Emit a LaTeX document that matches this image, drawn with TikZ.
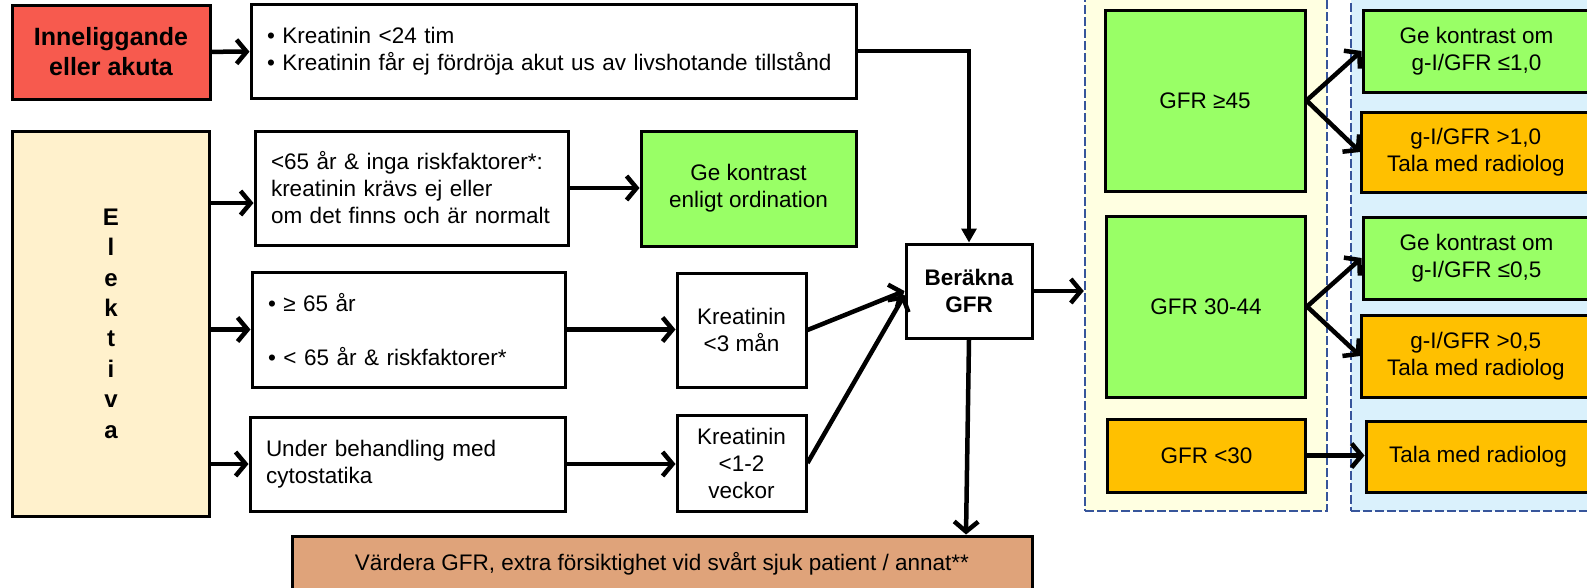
\documentclass[tikz,border=0pt]{standalone}
\usepackage{fontspec}
\setmainfont{Liberation Sans}
\usetikzlibrary{arrows.meta,calc}
\definecolor{cred}{RGB}{247,90,78}
\definecolor{ccream}{RGB}{255,241,204}
\definecolor{cgreen}{RGB}{153,255,102}
\definecolor{corange}{RGB}{255,192,0}
\definecolor{cyelbg}{RGB}{255,255,225}
\definecolor{cblubg}{RGB}{218,241,252}
\definecolor{cdash}{RGB}{55,85,155}
\definecolor{ctan}{RGB}{223,163,122}
\begin{document}
\begin{tikzpicture}[x=1pt,y=-1pt,
  box/.style={draw=black, line width=3pt, rectangle, inner sep=0pt, align=center, font=\fontsize{22.5}{27}\selectfont},
  lbox/.style={box, align=left, inner xsep=16pt},
  arr/.style={line width=4.5pt, -{Straight Barb[length=10pt,width=24pt]}},
  region/.style={draw=cdash, line width=2.5pt, dash pattern=on 9pt off 3pt, rectangle, inner sep=0pt}
]
\clip (0,0) rectangle (1587,587);
\useasboundingbox (0,0) rectangle (1587,587);

% regions
\node[region, fill=cyelbg, minimum width=242pt, minimum height=521pt] (yel) at (1206,250.5) {};
\node[region, fill=cblubg, minimum width=249pt, minimum height=521pt] (blu) at (1475.5,250.5) {};

% left column
\node[box, fill=cred, minimum width=198pt, minimum height=94pt, font=\bfseries\fontsize{25}{30}\selectfont] (inn) at (111,52) {Inneliggande\\eller akuta};
\node[lbox, fill=white, minimum width=605pt, text width=573pt, minimum height=94pt] (kr24) at (553.5,51) {\textbullet\ Kreatinin <24 tim\\\textbullet\ Kreatinin får ej fördröja akut us av livshotande tillstånd};

\node[box, fill=ccream, minimum width=197pt, minimum height=385pt, font=\bfseries\fontsize{24}{30.4}\selectfont] (ele) at (111,323.5) {E\\l\\e\\k\\t\\i\\v\\a};

\node[lbox, fill=white, minimum width=313pt, text width=281pt, minimum height=114pt] (r65) at (411.5,188) {<65 år \& inga riskfaktorer*:\\kreatinin krävs ej eller\\om det finns och är normalt};
\node[box, fill=cgreen, minimum width=215pt, minimum height=115pt] (gk0) at (748.5,188.5) {Ge kontrast\\enligt ordination};

\node[lbox, fill=white, minimum width=313pt, text width=281pt, minimum height=115pt] (r65b) at (408.5,329.5) {\textbullet\ ≥ 65 år\\[27pt]\textbullet\ < 65 år \& riskfaktorer*};
\node[box, fill=white, minimum width=129pt, minimum height=114pt] (k3) at (741.5,330) {Kreatinin\\<3 mån};

\node[lbox, fill=white, minimum width=315pt, text width=283pt, minimum height=94pt] (under) at (407.5,464) {Under behandling med\\cytostatika};
\node[box, fill=white, minimum width=129pt, minimum height=96pt] (k12) at (741.5,463) {Kreatinin\\<1-2\\veckor};

\node[box, fill=white, minimum width=126pt, minimum height=94pt, font=\bfseries\fontsize{22.5}{27}\selectfont] (ber) at (969,291) {Beräkna\\GFR};

\node[box, fill=ctan, minimum width=740pt, minimum height=56pt] (bot) at (662,564) {Värdera GFR, extra försiktighet vid svårt sjuk patient / annat**};

% GFR column
\node[box, fill=cgreen, minimum width=200pt, minimum height=181pt] (g45) at (1205,100.5) {GFR ≥45};
\node[box, fill=cgreen, minimum width=199pt, minimum height=181pt] (g30) at (1206,306.5) {GFR 30-44};
\node[box, fill=corange, minimum width=198pt, minimum height=73pt] (g0) at (1206.5,455.5) {GFR <30};

% result column
\node[box, fill=cgreen, minimum width=227pt, minimum height=82pt] (gk1) at (1476.5,51) {Ge kontrast om\\g-I/GFR ≤1,0};
\node[box, fill=corange, minimum width=228.4pt, minimum height=80pt] (gt1) at (1475.8,152) {g-I/GFR >1,0\\Tala med radiolog};
\node[box, fill=cgreen, minimum width=227pt, minimum height=82pt] (gk2) at (1476.5,258) {Ge kontrast om\\g-I/GFR ≤0,5};
\node[box, fill=corange, minimum width=228.4pt, minimum height=82pt] (gt2) at (1475.8,356) {g-I/GFR >0,5\\Tala med radiolog};
\node[box, fill=corange, minimum width=224pt, minimum height=71pt] (tala) at (1478,456.5) {Tala med radiolog};

% connectors
\draw[arr] (inn) -- (kr24);
\draw[line width=3.2pt, -{Triangle[length=14pt,width=15pt]}] (kr24.east) -| (ber.north);
\draw[arr] ($(ele.east|-r65.west)+(0,15)$) -- ($(r65.west)+(0,15)$);
\draw[arr] (r65.east) -- (r65.east -| gk0.west);
\draw[arr] (ele.east|-r65b.west) -- (r65b.west);
\draw[arr] (r65b.east) -- (r65b.east -| k3.west);
\draw[arr] (ele.east|-under.west) -- (under.west);
\draw[arr] (under.east) -- (under.east -| k12.west);
\draw[arr] (k3.east) -- (ber.west);
\draw[arr] (k12.east) -- ($(ber.west)+(0,4)$);
\draw[arr] (ber.east) -- (ber.east -| yel.west);
\draw[arr] (ber.south) -- ($(ber.south|-bot.north)+(-3,0)$);
\draw[arr] (g45.east) -- (gk1.west);
\draw[arr] (g45.east) -- (gt1.west);
\draw[arr] (g30.east) -- (gk2.west);
\draw[arr] (g30.east) -- (gt2.west);
\draw[arr] (g0.east) -- (g0.east -| tala.west);
\end{tikzpicture}
\end{document}
